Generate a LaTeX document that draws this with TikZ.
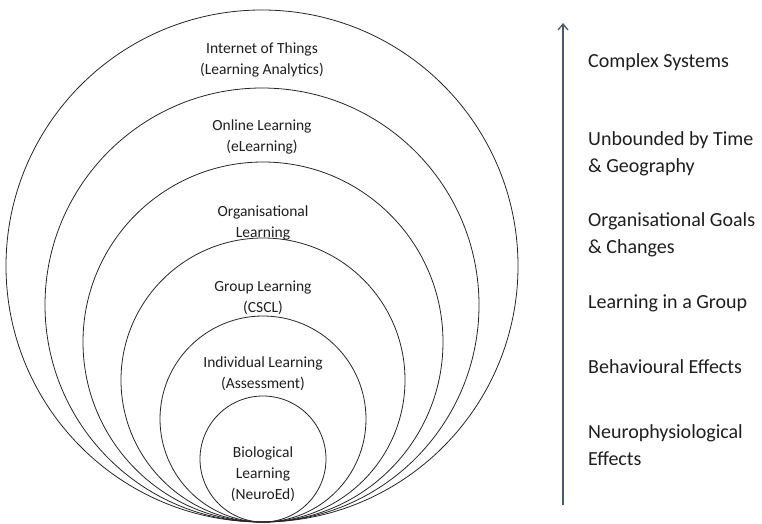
\documentclass[tikz,border=0pt]{standalone}
\usepackage{fontspec}
\setmainfont{Carlito}
\usetikzlibrary{arrows.meta}
\definecolor{arrowblue}{HTML}{4A5878}
\definecolor{txt}{HTML}{1E1E1E}
\tikzset{
  ring/.style={circle, draw=black!85, line width=0.8pt, inner sep=0pt},
  ringlabel/.style={align=center, text=txt, font=\fontsize{15.5}{21}\selectfont, inner sep=0pt},
  sidelabel/.style={align=left, anchor=west, text=txt, font=\fontsize{20}{27}\selectfont, inner sep=0pt},
  axis/.style={draw=arrowblue, line width=1.3pt, -{Straight Barb[length=6pt,width=10pt,line width=1.3pt]}}
}
\begin{document}
\begin{tikzpicture}[x=1pt,y=-1pt]
\useasboundingbox (0,0) rectangle (762,524);
% rings, all tangent at the bottom (y = 522)
\node[ring, minimum size=512pt] (c1) at (262,266) {};
\node[ring, minimum size=434pt] (c2) at (262,305) {};
\node[ring, minimum size=360pt] (c3) at (263,342) {};
\node[ring, minimum size=284pt] (c4) at (263,380) {};
\node[ring, minimum size=206pt] (c5) at (263,419) {};
\node[ring, minimum size=126pt] (c6) at (263,459) {};
% ring labels
\node[ringlabel] (l1) at (262,60) {Internet of Things\\(Learning Analytics)};
\node[ringlabel] (l2) at (262,137) {Online Learning\\(eLearning)};
\node[ringlabel] (l3) at (263,223) {Organisational\\Learning};
\node[ringlabel] (l4) at (263,298) {Group Learning\\(CSCL)};
\node[ringlabel] (l5) at (263,374) {Individual Learning\\(Assessment)};
\node[ringlabel] (l6) at (263,474) {Biological\\Learning\\(NeuroEd)};
% axis arrow
\coordinate (abot) at (563,505);
\coordinate (atop) at (563,23);
\draw[axis] (abot) -- (atop);
% side labels
\node[sidelabel] (s1) at (588,62) {Complex Systems};
\node[sidelabel] (s2) at (588,154) {Unbounded by Time\\\& Geography};
\node[sidelabel] (s3) at (588,235) {Organisational Goals\\\& Changes};
\node[sidelabel] (s4) at (588,303) {Learning in a Group};
\node[sidelabel] (s5) at (588,367) {Behavioural Effects};
\node[sidelabel] (s6) at (588,445) {Neurophysiological\\Effects};
\end{tikzpicture}
\end{document}
